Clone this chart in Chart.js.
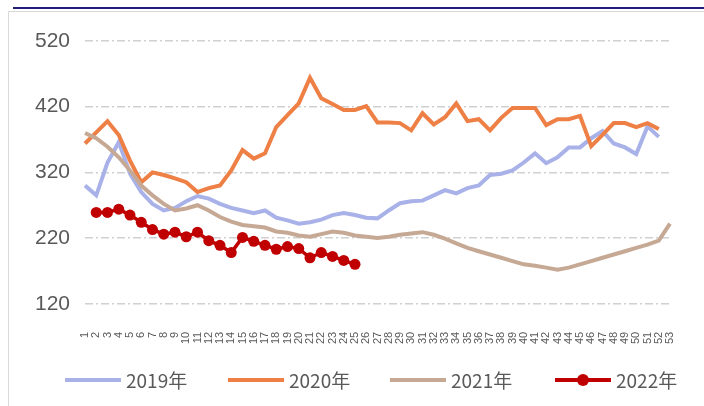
<!DOCTYPE html>
<html lang="zh-CN">
<head>
  <meta charset="UTF-8" />
  <title>2019-2022年 周度走势</title>
  <script src="https://cdn.jsdelivr.net/npm/chart.js"></script>
  <style>
    body {
      margin: 0;
      background: #fff;
      font-family: "Noto Sans CJK SC", "Noto Sans", sans-serif;
    }
    .topline {
      position: absolute;
      left: 13px;
      right: 0;
      top: 7px;
      height: 2px;
      background: #1f1f7a;
    }
    .frame {
      position: absolute;
      left: 8px;
      top: 11px;
      width: 695px;
      height: 394px;
      border-left: 1px solid #d9d9d9;
      border-top: 1px solid #d9d9d9;
    }
  </style>
</head>
<body>
  <div class="topline"></div>
  <div class="frame"><canvas id="chart"></canvas></div>

  <script>
    // week labels
    const weeks = ["1","2","3","4","5","6","7","8","9","10","11","12","13","14","15","16","17","18",
      "19","20","21","22","23","24","25","26","27","28","29","30","31","32","33","34","35","36",
      "37","38","39","40","41","42","43","44","45","46","47","48","49","50","51","52","53"];

    const years = ["2019年", "2020年", "2021年", "2022年"];

    const s2019 = [300, 285, 335, 366, 318, 290, 272, 262, 266, 276, 284, 280, 272, 266, 262, 258, 262, 251,
      247, 242, 244, 248, 255, 258, 255, 251, 250, 262, 273, 276, 277, 285, 293, 288, 296, 300,
      316, 318, 323, 335, 349, 334, 343, 358, 358, 372, 383, 364, 358, 348, 390, 374, null];

    const s2020 = [364, 381, 398, 377, 338, 305, 320, 316, 311, 305, 290, 296, 300, 323, 354, 341, 349, 389,
      407, 425, 464, 433, 424, 415, 415, 421, 396, 396, 395, 384, 410, 393, 404, 425, 398, 401,
      384, 403, 418, 418, 418, 392, 401, 401, 406, 360, 377, 395, 395, 389, 395, 386, null];

    const s2021 = [380, 372, 359, 343, 323, 300, 285, 272, 262, 265, 270, 262, 252, 245, 240, 238, 236, 230,
      228, 224, 222, 226, 230, 228, 224, 222, 220, 222, 225, 227, 229, 225, 219, 212, 205, 200,
      195, 190, 185, 180, 178, 175, 172, 175, 180, 185, 190, 195, 200, 205, 210, 216, 242];

    const s2022 = [null, 259, 259, 264, 255, 244, 233, 226, 229, 222, 229, 216, 209, 198, 221, 215, 209, 203,
      207, 204, 190, 198, 192, 186, 180, null, null, null, null, null, null, null, null, null, null, null,
      null, null, null, null, null, null, null, null, null, null, null, null, null, null, null, null, null];

    const yTicks = [120, 220, 320, 420, 520];

    const colors = ["#a9b2e8", "#ee7f45", "#c6a994", "#c00000"];

    // where each legend entry starts (canvas px)
    const legendX = [56, 219, 381, 546];

    function lineSet(label, data, color, order) {
      return {
        label: label,
        data: data,
        borderColor: color,
        backgroundColor: color,
        borderWidth: 4,
        pointRadius: 0,
        tension: 0,
        fill: false,
        order: order
      };
    }

    const datasets = [
      lineSet(years[0], s2019, colors[0], 3),
      lineSet(years[1], s2020, colors[1], 2),
      lineSet(years[2], s2021, colors[2], 1),
      Object.assign(lineSet(years[3], s2022, colors[3], 0), {
        borderWidth: 3.5,
        pointRadius: 5.5,
        pointBackgroundColor: colors[3],
        pointBorderWidth: 0
      })
    ];

    // legend drawn by hand so the spacing matches
    const bottomLegend = {
      id: "bottomLegend",
      afterDraw(chart) {
        const ctx = chart.ctx;
        const y = 368;
        ctx.save();
        ctx.font = "19px 'Noto Sans CJK SC', sans-serif";
        ctx.textBaseline = "middle";
        ctx.fillStyle = "#595959";
        chart.data.datasets.forEach((ds, i) => {
          const x = legendX[i];
          ctx.strokeStyle = ds.borderColor;
          ctx.lineWidth = 4;
          ctx.beginPath();
          ctx.moveTo(x, y);
          ctx.lineTo(x + 56, y);
          ctx.stroke();
          if (ds.pointRadius) {
            ctx.fillStyle = ds.borderColor;
            ctx.beginPath();
            ctx.arc(x + 28, y, 6, 0, Math.PI * 2);
            ctx.fill();
            ctx.fillStyle = "#595959";
          }
          ctx.fillText(ds.label, x + 61, y + 1);
        });
        ctx.restore();
      }
    };

    new Chart(document.getElementById("chart"), {
      type: "line",
      data: { labels: weeks, datasets: datasets },
      plugins: [bottomLegend],
      options: {
        responsive: true,
        maintainAspectRatio: false,
        animation: false,
        layout: { padding: { left: 0, right: 0, top: 29, bottom: 42 } },
        plugins: {
          tooltip: { enabled: false },
          legend: { display: false }
        },
        scales: {
          x: {
            grid: { display: false },
            border: { display: false },
            ticks: {
              autoSkip: false,
              minRotation: 90,
              maxRotation: 90,
              padding: 20,
              color: "#595959",
              font: { size: 11, family: "'Liberation Sans', sans-serif" }
            }
          },
          y: {
            min: 120,
            max: 520,
            afterFit: s => { s.width = 76; },
            afterBuildTicks: s => { s.ticks = yTicks.map(v => ({ value: v })); },
            grid: { color: "#d0d0d0", lineWidth: 1.5, drawTicks: false },
            border: { display: false, dash: [8, 3, 2, 3] },
            ticks: {
              padding: 15,
              color: "#595959",
              font: { size: 21, family: "'Liberation Sans', sans-serif" }
            }
          },
          y2: {
            position: "right",
            afterFit: s => { s.width = 34; },
            grid: { display: false },
            border: { display: false },
            ticks: { display: false }
          }
        }
      }
    });
  </script>
</body>
</html>
